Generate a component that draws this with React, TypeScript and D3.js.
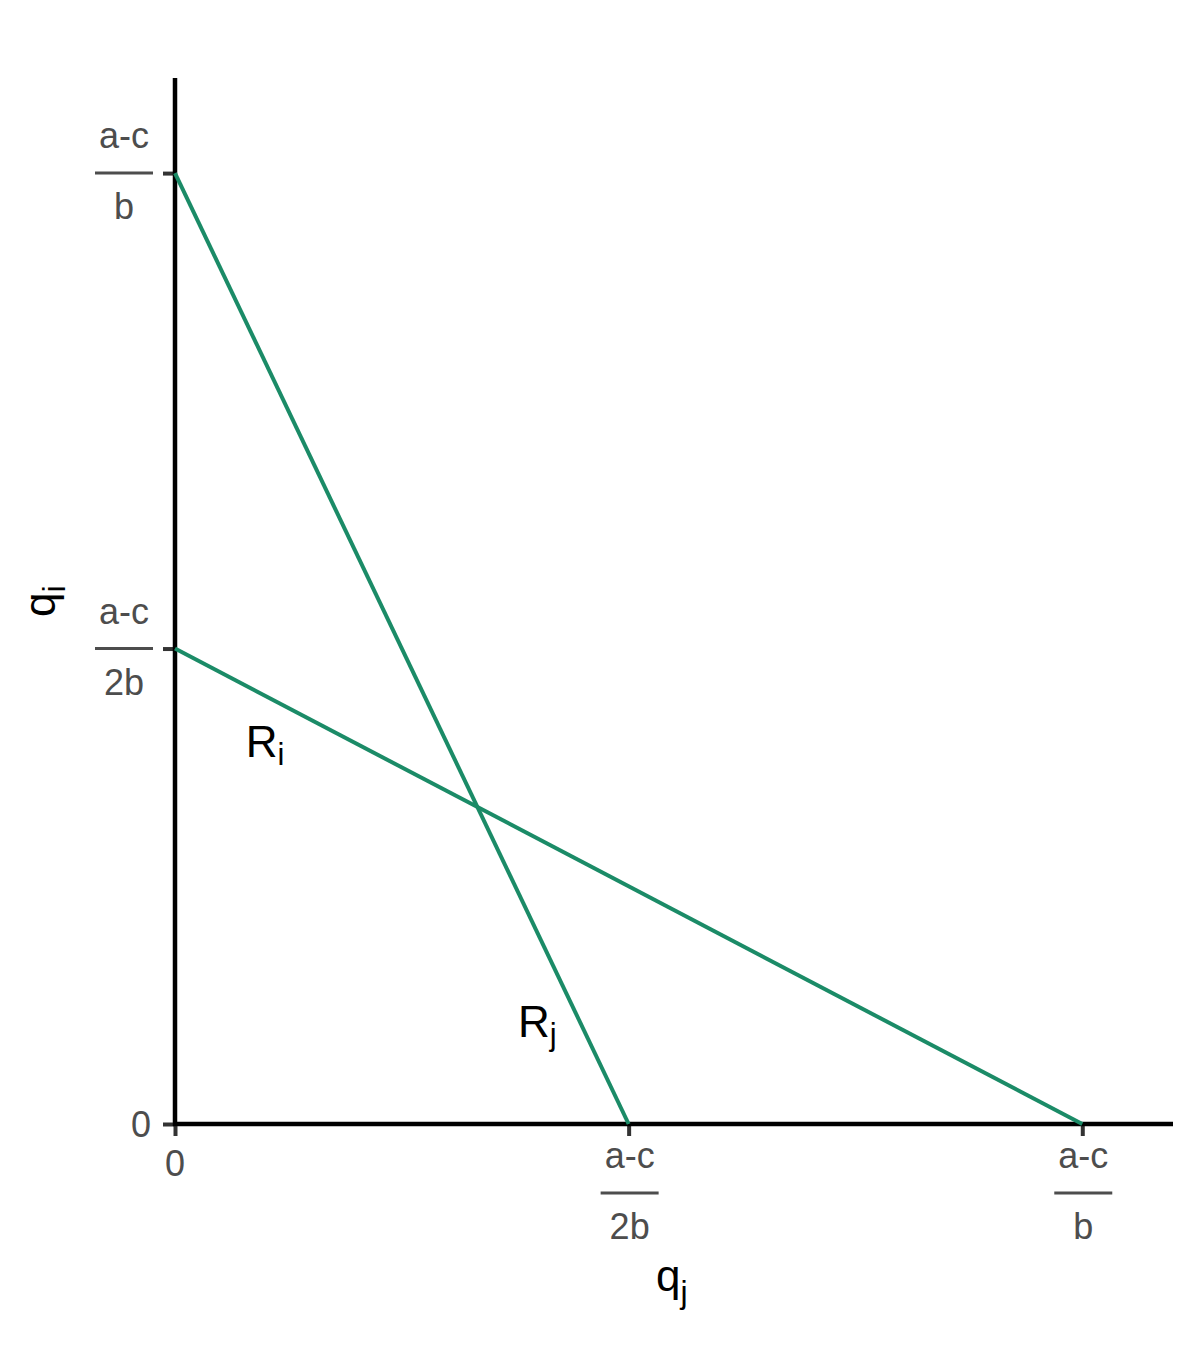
import React, { useEffect, useRef } from 'react';
import * as d3 from 'd3';

// tick positions (in units of (a-c)/b) and their fraction labels
const tickValues = [0, 0.5, 1];
const tickNumerators = ['0', 'a-c', 'a-c'];
const tickDenominators = ['', '2b', 'b'];

// best response lines: R_j (q_i on q_j) and R_i
const rjQj = [0, 0.5];
const rjQi = [1, 0];
const riQj = [0, 1];
const riQi = [0.5, 0];

const lineLabels = [
    { name: 'R', sub: 'i', qj: 0.078, qi: 0.386 },
    { name: 'R', sub: 'j', qj: 0.378, qi: 0.092 },
];

const FONT = '"Liberation Sans", Arial, sans-serif';
const LINE_COLOR = '#1b8b67';

const App = () => {
    const svgRef = useRef<SVGSVGElement>(null);

    useEffect(() => {
        const svg = d3.select(svgRef.current);
        svg.selectAll('*').remove();

        const width = 1200;
        const height = 1350;
        const margin = { top: 78, right: 27, bottom: 226, left: 175 };

        svg.attr('width', width).attr('height', height);

        const x = d3.scaleLinear().domain([0, 1.1]).range([margin.left, width - margin.right]);
        const y = d3.scaleLinear().domain([0, 1.1]).range([height - margin.bottom, margin.top]);

        svg.append('rect').attr('width', width).attr('height', height).attr('fill', '#fff');

        // y axis
        const yAxis = svg.append('g')
            .attr('transform', `translate(${x(0)},0)`)
            .call(d3.axisLeft(y).tickValues(tickValues).tickSize(12).tickFormat(() => ''));
        yAxis.select('.domain').remove();
        yAxis.selectAll('.tick line').attr('stroke', '#333').attr('stroke-width', 4);

        // x axis
        const xAxis = svg.append('g')
            .attr('transform', `translate(0,${y(0)})`)
            .call(d3.axisBottom(x).tickValues(tickValues).tickSize(12).tickFormat(() => ''));
        xAxis.select('.domain').remove();
        xAxis.selectAll('.tick line').attr('stroke', '#333').attr('stroke-width', 4);

        // axis lines
        svg.append('line')
            .attr('x1', x(0)).attr('x2', x(0))
            .attr('y1', y(1.1)).attr('y2', y(0) + 2)
            .attr('stroke', '#000').attr('stroke-width', 4.5);
        svg.append('line')
            .attr('x1', x(0) - 2).attr('x2', x(1.1))
            .attr('y1', y(0)).attr('y2', y(0))
            .attr('stroke', '#000').attr('stroke-width', 4.5);

        // fraction tick labels
        const drawLabel = (g, cx, barY, i) => {
            g.append('text')
                .attr('x', cx).attr('y', barY - 25)
                .attr('text-anchor', 'middle')
                .attr('font-family', FONT).attr('font-size', 36).attr('fill', '#4d4d4d')
                .text(tickNumerators[i]);
            g.append('line')
                .attr('x1', cx - 29).attr('x2', cx + 29)
                .attr('y1', barY).attr('y2', barY)
                .attr('stroke', '#4d4d4d').attr('stroke-width', 3);
            g.append('text')
                .attr('x', cx).attr('y', barY + 46)
                .attr('text-anchor', 'middle')
                .attr('font-family', FONT).attr('font-size', 36).attr('fill', '#4d4d4d')
                .text(tickDenominators[i]);
        };

        const labels = svg.append('g');
        tickValues.forEach((v, i) => {
            if (!tickDenominators[i]) {
                labels.append('text')
                    .attr('x', x(0) - 24).attr('y', y(v) + 13)
                    .attr('text-anchor', 'end')
                    .attr('font-family', FONT).attr('font-size', 36).attr('fill', '#4d4d4d')
                    .text(tickNumerators[i]);
                labels.append('text')
                    .attr('x', x(v)).attr('y', y(0) + 52)
                    .attr('text-anchor', 'middle')
                    .attr('font-family', FONT).attr('font-size', 36).attr('fill', '#4d4d4d')
                    .text(tickNumerators[i]);
                return;
            }
            drawLabel(labels, x(0) - 51, y(v), i);
            drawLabel(labels, x(v) + 1, y(0) + 69, i);
        });

        // best response lines
        const line = d3.line<number[]>()
            .x(d => x(d[0]))
            .y(d => y(d[1]));

        svg.append('path')
            .datum(rjQj.map((d, i) => [d, rjQi[i]]))
            .attr('d', line)
            .attr('fill', 'none')
            .attr('stroke', LINE_COLOR)
            .attr('stroke-width', 4);

        svg.append('path')
            .datum(riQj.map((d, i) => [d, riQi[i]]))
            .attr('d', line)
            .attr('fill', 'none')
            .attr('stroke', LINE_COLOR)
            .attr('stroke-width', 4);

        // line labels
        lineLabels.forEach(l => {
            const t = svg.append('text')
                .attr('x', x(l.qj)).attr('y', y(l.qi))
                .attr('font-family', FONT).attr('font-size', 44).attr('fill', '#000');
            t.append('tspan').text(l.name);
            t.append('tspan').attr('font-size', 31).attr('dy', 8).text(l.sub);
        });

        // axis titles
        const xt = svg.append('text')
            .attr('x', 656).attr('y', 1291)
            .attr('font-family', FONT).attr('font-size', 44).attr('fill', '#000');
        xt.append('tspan').text('q');
        xt.append('tspan').attr('font-size', 32).attr('dy', 12).text('j');

        const yt = svg.append('text')
            .attr('transform', `translate(55,${(y(0) + y(1.1)) / 2 + 16}) rotate(-90)`)
            .attr('font-family', FONT).attr('font-size', 44).attr('fill', '#000');
        yt.append('tspan').text('q');
        yt.append('tspan').attr('font-size', 32).attr('dy', 10).text('i');
    }, []);

    return (
        <svg ref={svgRef} style={{ position: 'absolute', left: 0, top: 0, display: 'block' }}></svg>
    );
};

export default App;
